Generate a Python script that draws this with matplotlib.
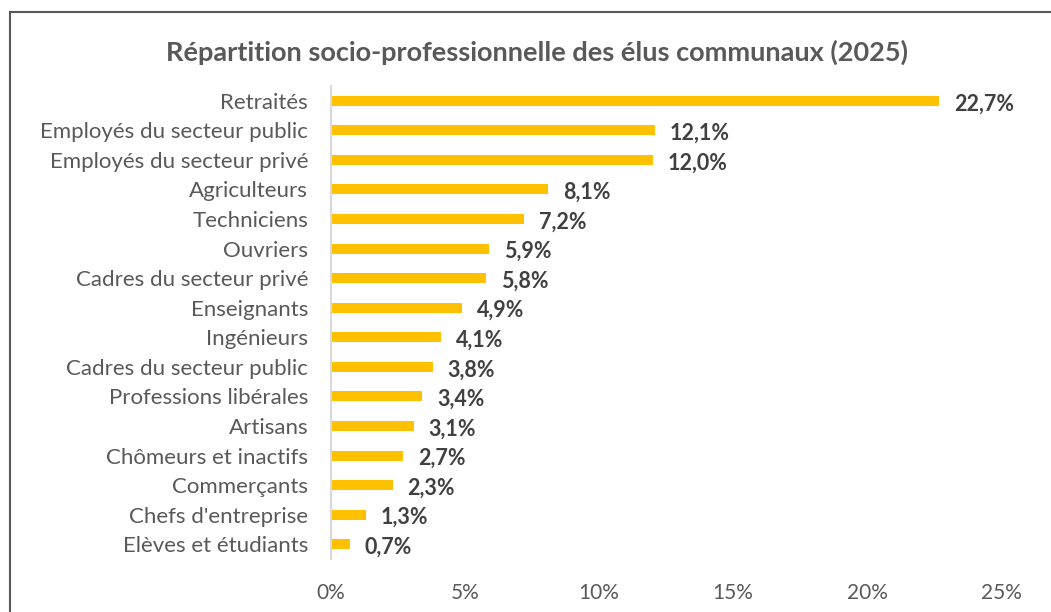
import matplotlib.pyplot as plt
from matplotlib.lines import Line2D

categories = ["Retraités", "Employés du secteur public", "Employés du secteur privé",
              "Agriculteurs", "Techniciens", "Ouvriers", "Cadres du secteur privé",
              "Enseignants", "Ingénieurs", "Cadres du secteur public",
              "Professions libérales", "Artisans", "Chômeurs et inactifs",
              "Commerçants", "Chefs d'entreprise", "Elèves et étudiants"]
values = [22.7, 12.1, 12.0, 8.1, 7.2, 5.9, 5.8, 4.9, 4.1, 3.8, 3.4, 3.1, 2.7, 2.3, 1.3, 0.7]
xticks = [0, 5, 10, 15, 20, 25]

plt.rcParams['font.family'] = ['Lato', 'DejaVu Sans']

fig = plt.figure(figsize=(10.51, 6.12), dpi=100)
ax = fig.add_axes([331/1051, 1 - 559/612, 670/1051, 473/612])

pos = list(range(len(categories)))
ax.barh(pos, values, height=0.34, color='#FFC000')
ax.set_ylim(len(categories) - 0.5, -0.5)
ax.set_xlim(0, 25)

for p, v in zip(pos, values):
    ax.text(v + 0.55, p + 0.1, f"{v:.1f}%".replace('.', ','), va='center', ha='left',
            fontsize=15.5, fontweight='bold', color='#404040')

ax.set_yticks(pos)
ax.set_yticklabels(categories, fontsize=16, color='#595959')
ax.set_xticks(xticks)
ax.set_xticklabels([f"{t}%" for t in xticks], fontsize=15, color='#595959')
ax.tick_params(axis='y', length=0, pad=16.5)
ax.tick_params(axis='x', length=0, pad=17)

for s in ['top', 'right', 'bottom']:
    ax.spines[s].set_visible(False)
ax.spines['left'].set_color('#D9D9D9')
ax.spines['left'].set_linewidth(1.5)

fig.text(537/1051, 1 - 52/612, "Répartition socio-professionnelle des élus communaux (2025)",
         ha='center', va='center', fontsize=19.5, fontweight='bold', color='#595959')

fig.add_artist(Line2D([10/1051, 1], [1 - 12/612, 1 - 12/612], transform=fig.transFigure,
                      color='#595959', linewidth=1.5))
fig.add_artist(Line2D([10/1051, 10/1051], [0, 1 - 12/612], transform=fig.transFigure,
                      color='#595959', linewidth=1.5))

fig.savefig('out.png', dpi=100)
